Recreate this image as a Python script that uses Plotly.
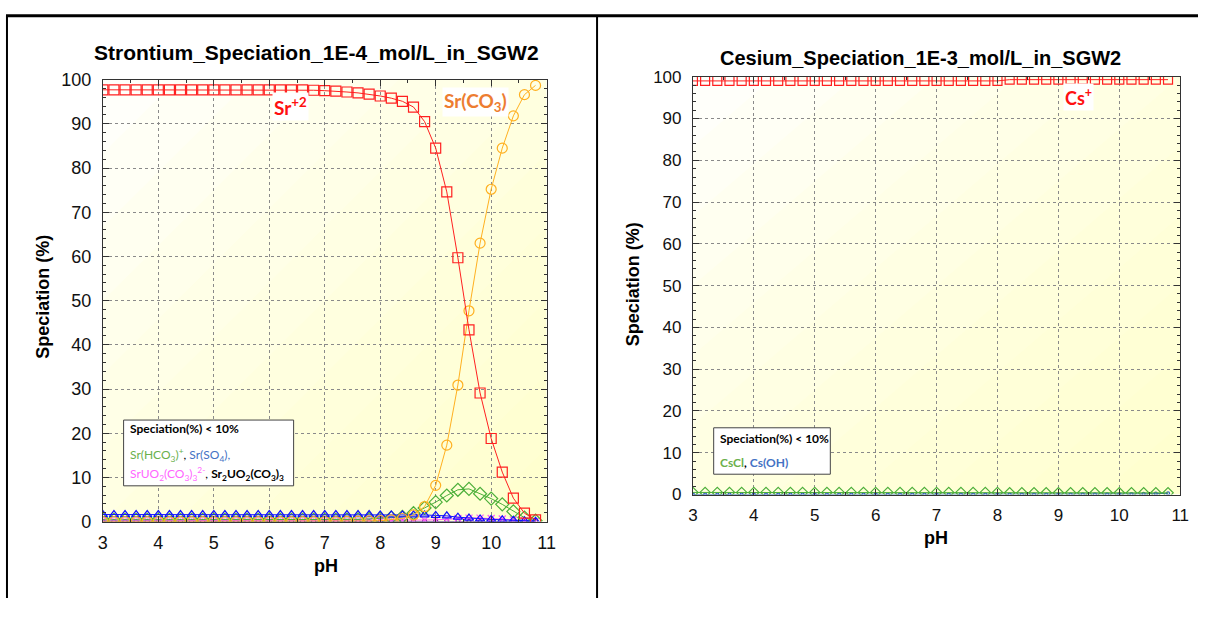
import plotly.graph_objects as go

# ---------------- data ----------------
ph = [round(3.0 + 0.2 * i, 1) for i in range(40)]  # pH grid 3.0 .. 10.8

sr_2 = [97.7, 97.7, 97.7, 97.7, 97.7, 97.7, 97.7, 97.7, 97.7, 97.7,
        97.7, 97.7, 97.7, 97.7, 97.7, 97.7, 97.7, 97.7, 97.7, 97.6,
        97.5, 97.4, 97.2, 97.0, 96.7, 96.3, 95.8, 95.1, 93.8, 90.5,
        84.5, 74.6, 59.7, 43.4, 29.1, 18.8, 11.2, 5.3, 1.9, 0.4]
sr_co3 = [0.0, 0.0, 0.0, 0.0, 0.0, 0.0, 0.0, 0.0, 0.0, 0.0,
          0.0, 0.0, 0.0, 0.0, 0.0, 0.0, 0.0, 0.0, 0.0, 0.0,
          0.0, 0.0, 0.05, 0.1, 0.15, 0.2, 0.4, 0.7, 1.5, 3.4,
          8.2, 17.3, 30.9, 47.7, 63.0, 75.2, 84.5, 91.8, 96.6, 98.7]
sr_hco3 = [0.4, 0.4, 0.4, 0.4, 0.4, 0.4, 0.4, 0.4, 0.4, 0.4,
           0.4, 0.4, 0.4, 0.4, 0.4, 0.4, 0.4, 0.4, 0.4, 0.4,
           0.4, 0.4, 0.45, 0.5, 0.6, 0.7, 0.9, 1.1, 1.9, 3.1,
           4.4, 5.9, 7.2, 7.4, 6.3, 5.2, 3.9, 2.3, 0.9, 0.2]
sr_so4 = [1.6, 1.6, 1.6, 1.6, 1.6, 1.6, 1.6, 1.6, 1.6, 1.6,
          1.6, 1.6, 1.6, 1.6, 1.6, 1.6, 1.6, 1.6, 1.6, 1.6,
          1.6, 1.6, 1.6, 1.6, 1.6, 1.5, 1.5, 1.5, 1.5, 1.5,
          1.4, 1.3, 1.0, 0.8, 0.6, 0.5, 0.4, 0.3, 0.2, 0.1]
sr_uo2co3 = [0.2, 0.2, 0.2, 0.2, 0.2, 0.2, 0.2, 0.2, 0.2, 0.2,
             0.2, 0.2, 0.2, 0.2, 0.2, 0.2, 0.2, 0.2, 0.2, 0.2,
             0.2, 0.2, 0.2, 0.2, 0.2, 0.2, 0.2, 0.25, 0.3, 0.35,
             0.4, 0.55, 0.7, 0.8, 0.8, 0.7, 0.6, 0.4, 0.2, 0.1]
sr2_uo2co3 = [0.05] * 30 + [0.05, 0.05, 0.05, 0.05, 0.05, 0.05, 0.05, 0.03, 0.02, 0.01]

cs_plus = [99.0] * 26 + [99.3] * 14
cs_cl = [0.5] * 26 + [0.4] * 14
cs_oh = [0.0] * 30 + [0.01, 0.01, 0.02, 0.03, 0.05, 0.07, 0.1, 0.15, 0.2, 0.3]

x_ticks = [3, 4, 5, 6, 7, 8, 9, 10, 11]
y_ticks = [0, 10, 20, 30, 40, 50, 60, 70, 80, 90, 100]

# the page keeps the browser's default 8px body margin, so the figure is
# sized to fit the 1223x624 window exactly and positions are offset by 8px
OFF = 8
W, H = 1223 - 2 * OFF, 624 - 2 * OFF
FONT = "Liberation Sans, Arial, sans-serif"
LABEL_FONT = "Lato, Noto Sans, sans-serif"


def px(x):
    return (x - OFF) / W


def py(y):
    return 1 - (y - OFF) / H


fig = go.Figure()


def add(xa, ya, y, name, color, symbol, size=9, lw=1):
    fig.add_trace(go.Scatter(
        x=ph, y=y, name=name, mode="lines+markers", xaxis=xa, yaxis=ya,
        line=dict(color=color, width=lw),
        marker=dict(symbol=symbol, size=size, color="rgba(0,0,0,0)",
                    line=dict(color=color, width=1.2)),
        showlegend=False, cliponaxis=True))


# ---------------- Strontium traces ----------------
add("x", "y", sr2_uo2co3, "Sr2UO2(CO3)3", "#202060", "circle", 4)
add("x", "y", sr_uo2co3, "SrUO2(CO3)3 2-", "#FF55FF", "x-thin", 7)
add("x", "y", sr_hco3, "Sr(HCO3)+", "#4CAF3A", "diamond", 10)
add("x", "y", sr_so4, "Sr(SO4)", "#1010FF", "triangle-up", 8)
add("x", "y", sr_co3, "Sr(CO3)", "#FFB020", "circle", 10)
add("x", "y", sr_2, "Sr+2", "#FF2020", "square", 10)

# ---------------- Cesium traces ----------------
add("x2", "y2", cs_oh, "Cs(OH)", "#3060C0", "circle", 3)
add("x2", "y2", cs_cl, "CsCl", "#4CAF3A", "diamond", 8)
add("x2", "y2", cs_plus, "Cs+", "#FF2020", "square", 9)


def axis(size):
    return dict(
        showline=True, linecolor="#333333", linewidth=1, mirror="allticks",
        ticks="inside", ticklen=6, tickcolor="#333333",
        showgrid=True, gridcolor="#8a8a8a", griddash="dot", gridwidth=1,
        zeroline=False, tickfont=dict(family=FONT, size=size, color="#111"),
    )


fig.update_layout(
    width=W, height=H, margin=dict(l=0, r=0, t=0, b=0),
    paper_bgcolor="white", plot_bgcolor="white",
    xaxis=dict(domain=[px(107), px(556)], range=[3, 11], tickvals=x_ticks,
               anchor="y", ticklabelstandoff=5,
               minor=dict(ticks="inside", ticklen=3, dtick=0.5, tickcolor="#333"),
               **axis(18)),
    yaxis=dict(domain=[py(537), py(80)], range=[0, 100], tickvals=y_ticks,
               anchor="x", ticklabelstandoff=7,
               minor=dict(ticks="inside", ticklen=3, dtick=2, tickcolor="#333"),
               **axis(18)),
    xaxis2=dict(domain=[px(704), px(1197)], range=[3, 11], tickvals=x_ticks,
                anchor="y2", ticklabelstandoff=5,
                minor=dict(ticks="inside", ticklen=3, dtick=0.5, tickcolor="#333"),
                **axis(17)),
    yaxis2=dict(domain=[py(509), py(77)], range=[0, 100], tickvals=y_ticks,
                anchor="x2", ticklabelstandoff=7,
                minor=dict(ticks="inside", ticklen=3, dtick=2, tickcolor="#333"),
                **axis(17)),
)

shapes = []
# gradient background (white top-left -> pale yellow bottom-right)
N = 12
for xr, yr in (("x", "y"), ("x2", "y2")):
    for k in range(N):
        t = 2.0 * k / N

        def pt(u, w):
            return (3 + 8 * u, 100 - 100 * w)
        if t <= 1:
            verts = [pt(t, 0), pt(1, 0), pt(1, 1), pt(0, 1), pt(0, t)]
        else:
            verts = [pt(1, t - 1), pt(1, 1), pt(t - 1, 1)]
        path = "M " + " L ".join(f"{a},{b}" for a, b in verts) + " Z"
        shapes.append(dict(type="path", path=path, xref=xr, yref=yr,
                           fillcolor="rgba(255,255,170,0.055)", line=dict(width=0),
                           layer="below"))

# table borders
shapes += [
    dict(type="line", xref="paper", yref="paper", x0=px(9), x1=1, y0=py(14), y1=py(14),
         line=dict(color="black", width=3)),
    dict(type="line", xref="paper", yref="paper", x0=px(10), x1=px(10), y0=py(14), y1=0,
         line=dict(color="black", width=2)),
    dict(type="line", xref="paper", yref="paper", x0=px(607), x1=px(607), y0=py(14), y1=0,
         line=dict(color="black", width=2)),
]
# note boxes
shapes += [
    dict(type="rect", xref="paper", yref="paper", x0=px(128), x1=px(300), y0=py(500), y1=py(432),
         fillcolor="white", line=dict(color="#444", width=1)),
    dict(type="rect", xref="paper", yref="paper", x0=px(725), x1=px(843), y0=py(488), y1=py(440),
         fillcolor="white", line=dict(color="#444", width=1)),
]
fig.update_layout(shapes=shapes)

ann = []


def A(x, y, text, size, color="black", bold=True, font=FONT, angle=0, xanchor="center", bg=None):
    d = dict(x=px(x), y=py(y), xref="paper", yref="paper", text=(f"<b>{text}</b>" if bold else text),
             showarrow=False, font=dict(family=font, size=size, color=color),
             xanchor=xanchor, yanchor="middle", textangle=angle)
    if bg:
        d["bgcolor"] = bg
    ann.append(d)


A(323, 52, "Strontium_Speciation_1E-4_mol/L_in_SGW2", 21)
A(934, 58, "Cesium_Speciation_1E-3_mol/L_in_SGW2", 20)
A(47, 305, "Speciation (%)", 18, angle=-90)
A(643, 292, "Speciation (%)", 18, angle=-90)
A(333, 583, "pH", 18)
A(950, 554, "pH", 18)

A(297, 108, "Sr<sup>+2</sup>", 19, color="#FF1010", font=LABEL_FONT, bg="white")
A(484, 103, "Sr(CO<sub>3</sub>)", 19, color="#ED7D31", font=LABEL_FONT, bg="white")
A(1094, 98, "Cs<sup>+</sup>", 18, color="#FF1010", font=LABEL_FONT, bg="white")

A(132, 441, "Speciation(%) &lt; 10%", 12, font=LABEL_FONT, xanchor="left")
A(132, 468, "<span style='color:#6AB04C'>Sr(HCO<sub>3</sub>)<sup>+</sup></span>, "
            "<span style='color:#4472C4'>Sr(SO<sub>4</sub>),</span>", 12,
  color="black", bold=False, font=LABEL_FONT, xanchor="left")
A(132, 488, "<span style='color:#FF66FF'>SrUO<sub>2</sub>(CO<sub>3</sub>)<sub>3</sub><sup>2-</sup></span>, "
            "<b>Sr<sub>2</sub>UO<sub>2</sub>(CO<sub>3</sub>)<sub>3</sub></b>", 12,
  color="black", bold=False, font=LABEL_FONT, xanchor="left")

A(729, 451, "Speciation(%) &lt; 10%", 12, font=LABEL_FONT, xanchor="left")
A(729, 476, "<span style='color:#6AB04C'>CsCl</span>, <span style='color:#4472C4'>Cs(OH)</span>", 12,
  font=LABEL_FONT, xanchor="left")

fig.update_layout(annotations=ann)

fig.write_html("out.html")
